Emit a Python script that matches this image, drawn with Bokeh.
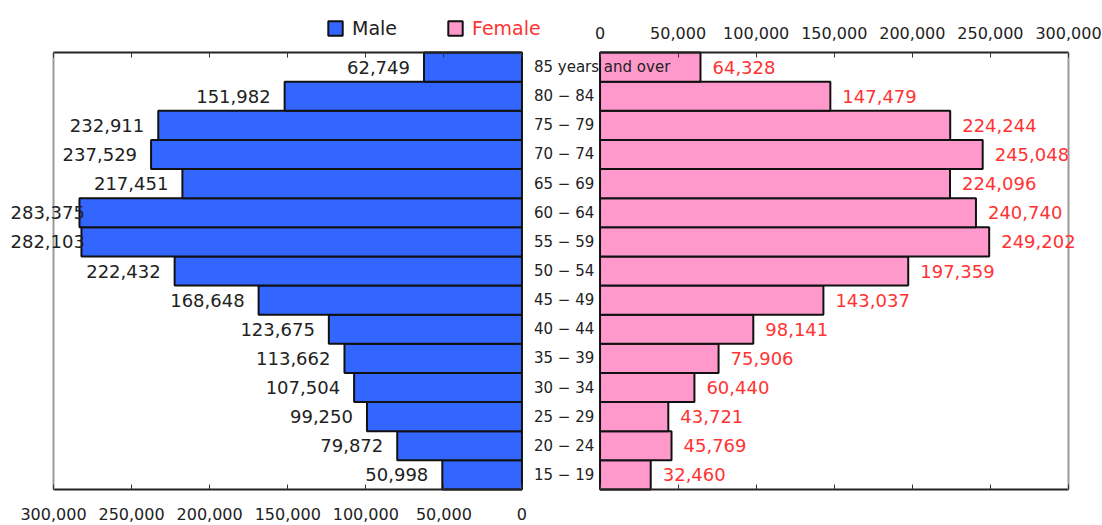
from bokeh.plotting import figure
from bokeh.models import (ColumnDataSource, LinearAxis, FixedTicker,
                          CustomJSTickFormatter, Legend, LegendItem, Range1d)
from bokeh.core.properties import value
from bokeh.embed import file_html
from bokeh.resources import INLINE

# ---------------- data (bottom to top) ----------------
age_groups = ["15 − 19", "20 − 24", "25 − 29", "30 − 34", "35 − 39",
              "40 − 44", "45 − 49", "50 − 54", "55 − 59", "60 − 64",
              "65 − 69", "70 − 74", "75 − 79", "80 − 84", "85 years and over"]
male = [50998, 79872, 99250, 107504, 113662, 123675, 168648, 222432,
        282103, 283375, 217451, 237529, 232911, 151982, 62749]
female = [32460, 45769, 43721, 60440, 75906, 98141, 143037, 197359,
          249202, 240740, 224096, 245048, 224244, 147479, 64328]
axis_ticks = [0, 50000, 100000, 150000, 200000, 250000, 300000]

# ---------------- layout constants ----------------
W, H = 1102, 525
GAP = 50000                              # width of centre label column (data units)
amax = axis_ticks[-1]
UPP = (GAP + 2 * amax) / (1068 - 53)     # data units per pixel
XMIN = -amax - 53 * UPP
XMAX = GAP + amax + (W - 1068) * UPP
n = len(age_groups)
ROW_PX = (489 - 52) / n
ylo, yhi = -0.5, n - 0.5
YMIN = ylo - (H - 489) / ROW_PX
YMAX = yhi + 52 / ROW_PX
FONT = "DejaVu Sans"
VAL_SIZE = 18

def text_w(s, size):
    return sum((0.318 if c == "," else 0.636) for c in s) * size

male_lbl = [f"{v:,}" for v in male]
female_lbl = [f"{v:,}" for v in female]
male_off = []
for v, s in zip(male, male_lbl):
    bar_px = (-v - XMIN) / UPP
    right = bar_px - 14
    w = text_w(s, VAL_SIZE)
    if right - w < 10:
        right = 10 + w
    male_off.append(right - bar_px)

src = ColumnDataSource(dict(
    y=list(range(n)), cat=age_groups,
    male_left=[-v for v in male],
    fem_left=[GAP] * n, fem_right=[GAP + v for v in female],
    male_lbl=male_lbl, female_lbl=female_lbl, male_off=male_off,
))

p = figure(width=W, height=H, x_range=Range1d(XMIN, XMAX),
           y_range=Range1d(YMIN, YMAX), output_backend="svg",
           toolbar_location=None, x_axis_location=None, y_axis_location=None,
           min_border=0)
p.outline_line_color = None
p.background_fill_color = "white"
p.border_fill_color = "white"
p.xgrid.grid_line_color = None
p.ygrid.grid_line_color = None

male_r = p.hbar(y="y", left="male_left", right=0, height=1, source=src,
                fill_color="#3366ff", line_color="#111111", line_width=2)
fem_r = p.hbar(y="y", left="fem_left", right="fem_right", height=1, source=src,
               fill_color="#ff99cc", line_color="#111111", line_width=2)

# frame lines
p.segment(x0=[-amax, GAP, -amax, GAP], x1=[0, GAP + amax, 0, GAP + amax],
          y0=[yhi, yhi, ylo, ylo], y1=[yhi, yhi, ylo, ylo],
          line_color="#222222", line_width=2)
p.segment(x0=[-amax, GAP + amax], x1=[-amax, GAP + amax],
          y0=[ylo, ylo], y1=[yhi, yhi], line_color="#999999", line_width=2)

# labels
p.text(x="male_left", y="y", text="male_lbl", x_offset="male_off", source=src,
       text_align="right", text_baseline="middle", text_font=value(FONT),
       text_font_size=f"{VAL_SIZE}px", text_color="#222222")
p.text(x="fem_right", y="y", text="female_lbl", x_offset=12, source=src,
       text_align="left", text_baseline="middle", text_font=value(FONT),
       text_font_size=f"{VAL_SIZE}px", text_color="#ff3333")
p.text(x=0, y="y", text="cat", x_offset=12, source=src,
       text_align="left", text_baseline="middle", text_font=value(FONT),
       text_font_size="15px", text_color="#222222")

# axes (fixed at the panel edges)
ticks = [-t for t in axis_ticks] + [GAP + t for t in axis_ticks]
top_ax = LinearAxis(
    ticker=FixedTicker(ticks=ticks), fixed_location=yhi,
    formatter=CustomJSTickFormatter(args=dict(gap=GAP),
        code="return tick >= gap ? (tick - gap).toLocaleString('en-US') : '';"))
bot_ax = LinearAxis(
    ticker=FixedTicker(ticks=ticks), fixed_location=ylo,
    formatter=CustomJSTickFormatter(
        code="return tick <= 0 ? Math.abs(tick).toLocaleString('en-US') : '';"))
for ax, standoff in ((top_ax, 14), (bot_ax, 18)):
    ax.axis_line_color = None
    ax.major_tick_in = 5
    ax.major_tick_out = 0
    ax.minor_tick_line_color = None
    ax.major_tick_line_color = "#333333"
    ax.major_label_standoff = standoff
    ax.major_label_text_font = FONT
    ax.major_label_text_font_size = "16px"
    ax.major_label_text_color = "#222222"
p.add_layout(top_ax, "above")
p.add_layout(bot_ax, "below")

# legends
for label, rend, loc, color in (("Male", male_r, (326, 486), "#222222"),
                                ("Female", fem_r, (446, 486), "#ff3333")):
    lg = Legend(items=[LegendItem(label=label, renderers=[rend])], location=loc,
                orientation="horizontal", glyph_width=18, glyph_height=18,
                label_standoff=8, padding=0, margin=0, border_line_color=None,
                background_fill_alpha=0, label_text_font=FONT,
                label_text_font_size="19px", label_text_color=color)
    p.add_layout(lg, "center")

open("out.html", "w").write(file_html(p, INLINE))
